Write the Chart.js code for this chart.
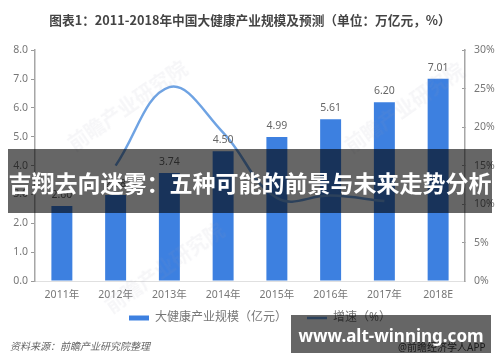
<!DOCTYPE html>
<html lang="zh-CN">
<head>
<meta charset="utf-8">
<title>大健康产业规模</title>
<script src="https://cdn.jsdelivr.net/npm/chart.js@4"></script>
<style>
html, body { margin: 0; padding: 0; background: #fff; }
#wrap { position: relative; width: 500px; height: 362px; overflow: hidden; font-family: "Noto Sans", "Noto Sans CJK SC", sans-serif; }
#myChart { position: absolute; left: 0; top: 0; }
.mark { position: absolute; color: rgba(150,160,175,.09); font-size: 20px; font-weight: 700; white-space: nowrap; transform: rotate(-35deg); transform-origin: left bottom; }
#source { position: absolute; left: 10px; top: 338px; font-size: 10px; font-style: italic; color: #666; }
#credit { position: absolute; left: 398px; top: 339px; font-size: 10px; color: #444; }
#band { position: absolute; left: 8px; top: 149px; width: 484px; height: 64px; background: rgba(0,0,0,.6); color: #fff; font: 700 23px/66px "Noto Sans CJK SC", sans-serif; text-align: center; white-space: nowrap; }
#site { position: absolute; left: 291px; top: 315px; width: 200px; height: 38px; background: rgba(0,0,0,.6); color: #fff; font: 700 17px/42px "Noto Sans", sans-serif; text-align: center; white-space: nowrap; }
</style>
</head>
<body>
<div id="wrap">
  <canvas id="myChart" width="500" height="362"></canvas>
  <div class="mark" style="left:78px;top:128px">前瞻产业研究院</div>
  <div class="mark" style="left:115px;top:290px">前瞻产业研究院</div>
  <div class="mark" style="left:355px;top:130px">前瞻产业研究院</div>
  <div id="source">资料来源：前瞻产业研究院整理</div>
  <div id="credit">@前瞻经济学人APP</div>
  <div id="band">吉翔去向迷雾：五种可能的前景与未来走势分析</div>
  <div id="site">www.alt-winning.com</div>
</div>
<script>
var years = ["2011年", "2012年", "2013年", "2014年", "2015年", "2016年", "2017年", "2018E"];
var marketSize = [2.60, 2.98, 3.74, 4.50, 4.99, 5.61, 6.20, 7.01];
var growthRate = [null, 15.0, 25.2, 19.3, 10.8, 11.1, 10.4, null];

var titleText = "图表1：2011-2018年中国大健康产业规模及预测（单位：万亿元，%）";
var sizeLabel = "大健康产业规模（亿元）";
var growthLabel = "增速（%）";

var cjkFont = '"Noto Sans", "Noto Sans CJK SC", sans-serif';
var tickColor = "#777";

// value labels above the bars
var barLabels = {
    id: "barLabels",
    afterDatasetsDraw: function (chart) {
        var ctx = chart.ctx;
        var meta = chart.getDatasetMeta(0);
        ctx.save();
        ctx.font = "10.5px " + cjkFont;
        ctx.fillStyle = "#666";
        ctx.textAlign = "center";
        ctx.textBaseline = "middle";
        meta.data.forEach(function (bar, i) {
            ctx.fillText(marketSize[i].toFixed(2), bar.x, bar.y - 11);
        });
        ctx.restore();
    }
};

// legend padding also pushes it down, so pull it back up under the axis
var legendNudge = {
    id: "legendNudge",
    afterLayout: function (chart) {
        var legend = chart.legend;
        legend.top -= 19;
        legend.bottom -= 19;
        legend.left += 10;
        legend.right += 10;
    }
};

new Chart("myChart", {
    data: {
        labels: years,
        datasets: [{
            type: "bar",
            label: sizeLabel,
            data: marketSize,
            yAxisID: "y",
            order: 1,
            backgroundColor: "#3d80e0",
            barPercentage: 0.39,
            categoryPercentage: 1
        }, {
            type: "line",
            label: growthLabel,
            data: growthRate,
            yAxisID: "y2",
            order: 0,
            borderColor: "#6fa3e3",
            backgroundColor: "#6fa3e3",
            borderWidth: 2.5,
            pointRadius: 0,
            tension: 0.4,
            fill: false
        }]
    },
    options: {
        responsive: false,
        animation: false,
        layout: { padding: { bottom: 9 } },
        plugins: {
            tooltip: { enabled: false },
            title: {
                display: true,
                text: titleText,
                color: "#444",
                font: { family: '"Noto Sans CJK SC", sans-serif', size: 12.7, weight: "bold" },
                padding: { top: 13, bottom: 22 }
            },
            legend: {
                position: "bottom",
                labels: {
                    color: tickColor,
                    font: { family: cjkFont, size: 12 },
                    usePointStyle: true,
                    pointStyleWidth: 20,
                    boxHeight: 5,
                    padding: 20,
                    sort: function (a, b) { return a.datasetIndex - b.datasetIndex; },
                    generateLabels: function (chart) {
                        var items = Chart.defaults.plugins.legend.labels.generateLabels(chart);
                        items.forEach(function (item) {
                            item.pointStyle = item.text === growthLabel ? "line" : "rect";
                        });
                        return items;
                    }
                }
            }
        },
        scales: {
            x: {
                offset: true,
                afterFit: function (scale) { scale.height = 30; },
                grid: { display: false, drawTicks: false },
                border: { color: "#e0e0e0", width: 1 },
                ticks: { color: tickColor, font: { family: cjkFont, size: 10.5 }, padding: 8, maxRotation: 0 }
            },
            y: {
                position: "left",
                min: 0,
                max: 8,
                afterFit: function (scale) { scale.width = 35; },
                grid: { drawOnChartArea: false, tickLength: 4, tickColor: "#999" },
                border: { color: "#a6a6a6", width: 1.5 },
                ticks: {
                    stepSize: 1,
                    color: tickColor,
                    font: { family: cjkFont, size: 10.5 },
                    padding: 3,
                    callback: function (v) { return v.toFixed(1); }
                }
            },
            y2: {
                position: "right",
                min: 0,
                max: 30,
                afterFit: function (scale) { scale.width = 35; },
                grid: { drawOnChartArea: false, tickLength: -3, tickColor: "#999" },
                border: { color: "#a6a6a6", width: 1.5 },
                ticks: {
                    stepSize: 5,
                    color: tickColor,
                    font: { family: cjkFont, size: 10.5 },
                    padding: 12,
                    callback: function (v) { return v + "%"; }
                }
            }
        }
    },
    plugins: [barLabels, legendNudge]
});
</script>
</body>
</html>
